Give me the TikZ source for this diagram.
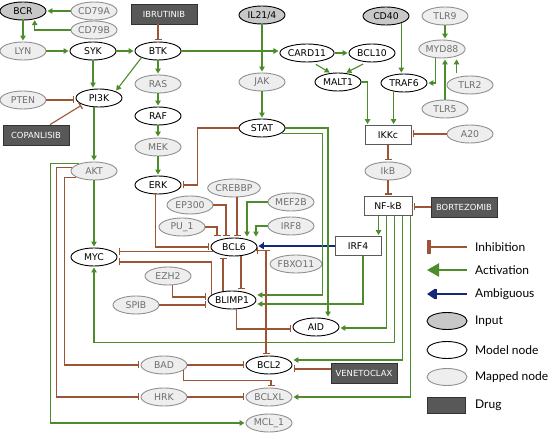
\documentclass[tikz,border=0pt]{standalone}
\usepackage{fontspec}
\newfontfamily\dvsans{DejaVu Sans}
\newfontfamily\latofont{Lato}
\usetikzlibrary{shapes.geometric,arrows.meta,calc}
\definecolor{actg}{RGB}{76,140,43}
\definecolor{inhb}{RGB}{156,84,52}
\definecolor{ambb}{RGB}{22,38,120}
\definecolor{inputfill}{RGB}{200,200,200}
\definecolor{mapfill}{RGB}{238,238,238}
\definecolor{mapdraw}{RGB}{145,145,145}
\definecolor{maptext}{RGB}{110,110,110}
\definecolor{drugfill}{RGB}{88,88,88}
\definecolor{drugdraw}{RGB}{50,50,50}
\definecolor{boxdraw}{RGB}{90,90,90}
\tikzset{
  nb/.style={font=\dvsans\fontsize{9.3}{11}\selectfont, inner sep=0pt},
  ell/.style={nb, ellipse, minimum width=46pt, minimum height=18pt, line width=0.9pt},
  modeln/.style={ell, draw=black, fill=white},
  inputn/.style={ell, draw=black, fill=inputfill},
  mappedn/.style={ell, draw=mapdraw, fill=mapfill, text=maptext},
  drugn/.style={nb, font=\dvsans\fontsize{8.4}{10}\selectfont, rectangle, draw=drugdraw, fill=drugfill, text=white, minimum width=66pt, minimum height=20pt, line width=0.8pt},
  boxn/.style={nb, rectangle, draw=boxdraw, fill=white, minimum width=46pt, minimum height=19pt, line width=0.9pt},
  act/.style={draw=actg, line width=1.1pt, shorten >=1pt, -{Triangle[length=5pt,width=5.5pt]}},
  inh/.style={draw=inhb, line width=1.1pt, shorten >=1.5pt, -{Bar[width=7pt,line width=1.3pt]}},
  amb/.style={draw=ambb, line width=1.1pt, shorten >=1pt, -{Bar[width=7pt,line width=1pt]Triangle[length=5pt,width=6pt]}},
  legtext/.style={font=\latofont\fontsize{12}{14}\selectfont, anchor=west, inner sep=0pt},
}
\begin{document}
\begin{tikzpicture}[x=1pt,y=-1pt]
\fill[white] (0,0) rectangle (550,433);
\useasboundingbox (0,0) rectangle (550,433);

% nodes
\node[inputn]  (BCR)    at (23,11)  {BCR};
\node[mappedn] (CD79A)  at (94,11)  {CD79A};
\node[mappedn] (CD79B)  at (94,30)  {CD79B};
\node[drugn]   (IBRU)   at (164,14) {IBRUTINIB};
\node[inputn]  (IL)     at (262,15) {IL21/4};
\node[inputn]  (CD40)   at (386,16) {CD40};
\node[mappedn] (TLR9)   at (445,16) {TLR9};
\node[mappedn] (LYN)    at (23,51)  {LYN};
\node[modeln]  (SYK)    at (93,51)  {SYK};
\node[modeln]  (BTK)    at (158,51) {BTK};
\node[modeln]  (CARD11) at (307,53) {CARD11};
\node[modeln]  (BCL10)  at (372,53) {BCL10};
\node[mappedn] (MYD88)  at (442,49) {MYD88};
\node[modeln]  (MALT1)  at (338,82) {MALT1};
\node[modeln]  (TRAF6)  at (404,83) {TRAF6};
\node[mappedn] (TLR2)   at (470,85) {TLR2};
\node[mappedn] (JAK)    at (262,82) {JAK};
\node[mappedn] (RAS)    at (158,84) {RAS};
\node[mappedn] (PTEN)   at (23,100) {PTEN};
\node[modeln]  (PI3K)   at (99,98)  {PI3K};
\node[mappedn] (TLR5)   at (445,109) {TLR5};
\node[modeln]  (RAF)    at (158,116) {RAF};
\node[modeln]  (STAT)   at (262,128) {STAT};
\node[boxn]    (IKKc)   at (388,135) {IKKc};
\node[mappedn] (A20)    at (470,134) {A20};
\node[drugn]   (COPA)   at (36,135) {COPANLISIB};
\node[mappedn] (MEK)    at (158,147) {MEK};
\node[mappedn] (AKT)    at (94,171) {AKT};
\node[mappedn] (IkB)    at (388,171) {IkB};
\node[modeln]  (ERK)    at (158,185) {ERK};
\node[mappedn] (CREBBP) at (234,188) {CREBBP};
\node[mappedn] (EP300)  at (190,205) {EP300};
\node[mappedn] (MEF2B)  at (291,202) {MEF2B};
\node[boxn, minimum width=48pt] (NFkB) at (388,206) {NF-kB};
\node[drugn]   (BORT)   at (464,207) {BORTEZOMIB};
\node[mappedn] (PU1)    at (182,227) {PU\_1};
\node[mappedn] (IRF8)   at (291,226) {IRF8};
\node[modeln]  (BCL6)   at (234,247) {BCL6};
\node[boxn]    (IRF4)   at (358,246) {IRF4};
\node[mappedn] (FBXO11) at (296,264) {FBXO11};
\node[modeln]  (MYC)    at (94,257) {MYC};
\node[mappedn] (EZH2)   at (168,276) {EZH2};
\node[modeln]  (BLIMP1) at (232,300) {BLIMP1};
\node[mappedn] (SPIB)   at (136,305) {SPIB};
\node[modeln]  (AID)    at (316,327) {AID};
\node[mappedn] (BAD)    at (164,365) {BAD};
\node[modeln]  (BCL2)   at (269,365) {BCL2};
\node[drugn]   (VENE)   at (364,373) {VENETOCLAX};
\node[mappedn] (HRK)    at (164,397) {HRK};
\node[mappedn] (BCLXL)  at (269,397) {BCLXL};
\node[mappedn] (MCL1)   at (269,423) {MCL\_1};

% top left
\draw[act] (CD79A) -- (BCR);
\draw[act] (CD79B.west) -| (BCR.-35);
\draw[act] (BCR) -- (LYN);
\draw[act] (LYN) -- (SYK);
\draw[act] (SYK) -- (BTK);
\draw[inh] (IBRU.south -| BTK.north) -- (BTK.north);
\draw[act] (BTK.east) -- (BTK.east -| CARD11.west);
\draw[act] (BTK.south west) -- (PI3K.north east);
\draw[act] (SYK.south) -- (SYK.south |- PI3K.north);
\draw[act] (BTK) -- (RAS);
\draw[act] (RAS) -- (RAF);
\draw[act] (RAF) -- (MEK);
\draw[act] (MEK) -- (ERK);
\draw[inh] (PTEN.east) -- (PTEN.east -| PI3K.west);
\draw[inh] ([xshift=14pt]COPA.north) -- (PI3K.south west);
\draw[act] (PI3K.south -| AKT.north) -- (AKT.north);
\draw[act] (AKT) -- (MYC);

% top middle / right
\draw[act] (IL) -- (JAK);
\draw[act] (JAK) -- (STAT);
\draw[act] (CARD11) -- (BCL10);
\draw[act, shorten <=4pt] (CARD11.-60) -- (MALT1.130);
\draw[act, shorten <=4pt] (BCL10.-120) -- (MALT1.50);
\draw[act] (MALT1.east) -| ([xshift=3pt]IKKc.north west);
\draw[act] (CD40.-25) -- (CD40.-25 |- TRAF6.north);
\draw[act] (TRAF6.-141) -- (TRAF6.-141 |- IKKc.north);
\draw[act] (TLR9.south) -- (TLR9.south |- MYD88.north);
\draw[act] (TLR5.north) -- (TLR5.north |- MYD88.south);
\draw[act, shorten <=4pt] (TLR2.150) -- (TLR2.150 |- MYD88.south);
\draw[act] (MYD88.-125) |- (TRAF6.east);
\draw[inh] (A20.west) -- (A20.west -| IKKc.east);
\draw[inh] (IKKc) -- (IkB);
\draw[inh] (IkB) -- (NFkB);
\draw[inh] (BORT.west) -- (BORT.west -| NFkB.east);

% NF-kB outputs
\coordinate (nk1) at ([xshift=15pt]NFkB.south west);
\coordinate (nk2) at ([xshift=23pt]NFkB.south west);
\coordinate (nk3) at ([xshift=31pt]NFkB.south west);
\coordinate (nk4) at ([xshift=39pt]NFkB.south west);
\coordinate (nk5) at ([xshift=47pt]NFkB.south west);
\draw[act] (nk1) -- (nk1 |- IRF4.north);
\draw[act] (nk2) |- ([yshift=-1pt]AID.east);
\draw[act] (nk3) -- ++(0,127) -| (MYC.south);
\draw[act] (nk4) |- ([yshift=5pt]BCL2.east);
\draw[act] (nk5) |- (BCLXL.east);

% IRF4 and STAT
\draw[amb] (IRF4.west) -- (IRF4.west -| BCL6.east);
\draw[act] ([xshift=5pt]IRF4.south) |- ([yshift=-4pt]BLIMP1.east);
\draw[act] (STAT.east) -| ([xshift=12pt]AID.north);
\draw[act] (STAT.-15) -- ++(41,0) |- ([yshift=5pt]BLIMP1.east);
\draw[inh] (STAT.west) -- ++(-41,0) |- (ERK.east);

% BCL6 regulators
\draw[inh] (ERK.-105) |- (BCL6.west);
\draw[inh] (PU1.east) -| ([xshift=-17pt]BCL6.north);
\draw[inh] (EP300.east) -| ([xshift=-8pt]BCL6.north);
\draw[inh] ([xshift=3pt]CREBBP.south) -- ([xshift=3pt]BCL6.north);
\draw[act] (MEF2B.west) -| ([xshift=13pt]BCL6.north);
\draw[act] (IRF8.west) -| ([xshift=22pt]BCL6.north);
\draw[inh] (FBXO11.west |- BCL6.-10) -- (BCL6.-10);
\draw[inh] (BCL6.-10) -| ([xshift=-3pt]BCL2.north);
\draw[inh] (BCL6.191) -- (BCL6.191 -| MYC.east);
\draw[inh] ([xshift=-9pt]BLIMP1.north) -- ([xshift=-9pt]BLIMP1.north |- BCL6.south);
\draw[inh] ([xshift=7pt]BCL6.south) -- ([xshift=7pt]BCL6.south |- BLIMP1.north);

% BLIMP1 regulators
\draw[inh] (BLIMP1.165) |- ([yshift=-5pt]MYC.east);
\draw[inh] (EZH2.-66) |- ([yshift=3pt]BLIMP1.west);
\draw[inh] (SPIB.east) -- (SPIB.east -| BLIMP1.west);
\draw[inh] (BLIMP1.-66) |- ([yshift=-2pt]AID.west);

% AKT outputs
\draw[act] (AKT.154) -- ++(-28.5,0) |- (MCL1.west);
\draw[inh] (AKT.172) -- ++(-15.3,0) |- (HRK.west);
\draw[inh] (AKT.199) -- ++(-11.9,0) |- (BAD.west);

% apoptosis block
\draw[inh] (BAD) -- (BCL2);
\draw[inh] (BAD.-15) -- ++(0,10) -| ([xshift=2pt]BCLXL.north);
\draw[inh] (HRK) -- (BCLXL);
\draw[inh] ([yshift=4pt]VENE.west) -- ([yshift=4pt]VENE.west -| BCL2.east);

% legend
\coordinate (Li0) at (427,247); \coordinate (Li1) at (467,247);
\coordinate (La0) at (427,270); \coordinate (La1) at (467,270);
\coordinate (Lb0) at (427,294); \coordinate (Lb1) at (467,294);
\draw[draw=inhb, line width=2.2pt, -{Bar[width=14pt,line width=4pt]}] (Li1) -- (Li0);
\draw[draw=actg, line width=2.2pt, -{Triangle[length=12pt,width=13pt]}] (La1) -- (La0);
\draw[draw=ambb, line width=1.8pt, -{Bar[width=10pt,line width=1.5pt]Triangle[length=8pt,width=10pt]}] (Lb1) -- (Lb0);
\node[legtext] (tInh) at (475,247) {Inhibition};
\node[legtext] (tAct) at (475,270) {Activation};
\node[legtext] (tAmb) at (475,294) {Ambiguous};
\node[inputn, minimum width=40pt, minimum height=17pt] (LgIn) at (447,321) {};
\node[modeln, minimum width=40pt, minimum height=17pt] (LgMo) at (447,350) {};
\node[mappedn, minimum width=40pt, minimum height=17pt] (LgMa) at (447,377) {};
\node[drugn, minimum width=38pt, minimum height=16pt] (LgDr) at (446,405) {};
\node[legtext] (tIn) at (475,321) {Input};
\node[legtext] (tMo) at (475,350) {Model node};
\node[legtext] (tMa) at (475,377) {Mapped node};
\node[legtext] (tDr) at (475,405) {Drug};
\end{tikzpicture}
\end{document}
